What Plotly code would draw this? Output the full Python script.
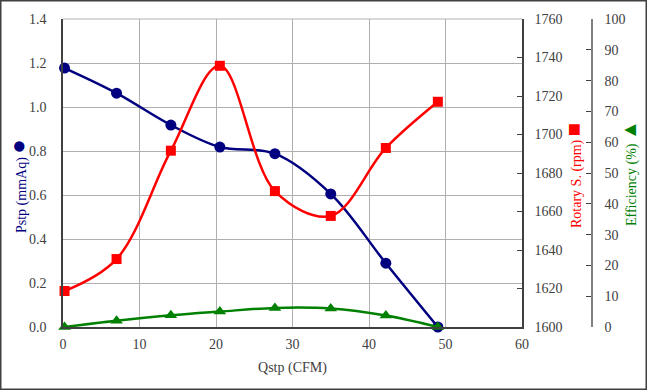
import plotly.graph_objects as go

qstp = [0.2, 7.0, 14.1, 20.5, 27.7, 35.0, 42.2, 49.0]
pstp = [1.177, 1.063, 0.918, 0.818, 0.788, 0.605, 0.29, 0.0]
rpm = [1618.7, 1635.3, 1691.6, 1735.7, 1670.6, 1657.7, 1693.0, 1717.0]
eff = [0.0, 2.0, 3.8, 5.0, 6.2, 6.0, 3.7, 0.0]

x_ticks = [0, 10, 20, 30, 40, 50, 60]
p_ticks = [0.0, 0.2, 0.4, 0.6, 0.8, 1.0, 1.2, 1.4]
p_labels = ["0.0", "0.2", "0.4", "0.6", "0.8", "1.0", "1.2", "1.4"]
r_ticks = [1600, 1620, 1640, 1660, 1680, 1700, 1720, 1740, 1760]
e_ticks = [0, 10, 20, 30, 40, 50, 60, 70, 80, 90, 100]

NAVY = "#000080"
RED = "#FF0000"
GREEN = "#008000"
TICKC = "#404040"
FONT = "Liberation Serif, Times New Roman, serif"

W, H = 647, 390
L, R, T, B = 63, 47, 19, 63
PW = W - L - R
PH = H - T - B

def px(xp):
    return (xp - L) / PW

def py(yp):
    return (H - B - yp) / PH

fig = go.Figure()
fig.add_trace(go.Scatter(x=qstp, y=rpm, mode="lines+markers", name="Rotary S.",
                         line=dict(color=RED, width=2.5, shape="spline"),
                         marker=dict(symbol="square", size=10, color=RED),
                         yaxis="y2", cliponaxis=False))
fig.add_trace(go.Scatter(x=qstp, y=eff, mode="lines+markers", name="Efficiency",
                         line=dict(color=GREEN, width=2.5, shape="spline"),
                         marker=dict(symbol="triangle-up", size=11, color=GREEN),
                         yaxis="y3", cliponaxis=False))
fig.add_trace(go.Scatter(x=qstp, y=pstp, mode="lines+markers", name="Pstp",
                         line=dict(color=NAVY, width=2.5, shape="spline"),
                         marker=dict(symbol="circle", size=11, color=NAVY),
                         yaxis="y", cliponaxis=False))

xdom_end = px(522)
tickfont = dict(family=FONT, size=14, color=TICKC)

fig.update_layout(
    width=W, height=H,
    margin=dict(l=L, r=R, t=T, b=B, autoexpand=False),
    paper_bgcolor="white", plot_bgcolor="white",
    showlegend=False,
    font=dict(family=FONT, size=14, color=TICKC),
    xaxis=dict(domain=[0, xdom_end], range=[0, 60], tickvals=x_ticks,
               showgrid=True, gridcolor="#b0b0b0", gridwidth=1,
               showline=True, linecolor="#404040", linewidth=1.5, mirror=False,
               ticks="", tickfont=tickfont, ticklabelstandoff=3, automargin=False,
               zeroline=False,
               title=dict(text="Qstp (CFM)", font=dict(family=FONT, size=14, color=TICKC), standoff=12)),
    yaxis=dict(range=[0, 1.4], tickvals=p_ticks, ticktext=p_labels,
               showgrid=True, gridcolor="#b0b0b0", gridwidth=1,
               showline=True, linecolor="#404040", linewidth=1.5, automargin=False,
               ticks="", tickfont=tickfont, ticklabelstandoff=12, zeroline=False),
    yaxis2=dict(range=[1600, 1760], tickvals=r_ticks, overlaying="y", side="right",
                anchor="x", showgrid=False, showline=True, linecolor="#404040", linewidth=1.5,
                ticks="inside", ticklen=5, tickcolor="#404040", tickfont=tickfont,
                ticklabelstandoff=8, zeroline=False, automargin=False),
    yaxis3=dict(range=[0, 100], tickvals=e_ticks, overlaying="y", side="right",
                anchor="free", position=px(592), showgrid=False, showline=True,
                linecolor="#808080", linewidth=1.5, ticks="inside", ticklen=5,
                tickcolor="#404040", tickfont=tickfont, ticklabelstandoff=9, zeroline=False,
                automargin=False),
)

ann = [
    (18, 186, "Pstp (mmAq) <span style='font-size:24px'>●</span>", NAVY),
    (573, 176, "Rotary S. (rpm) <span style='font-size:22px'>■</span>", RED),
    (629, 173, "Efficiency (%) <span style='font-size:20px'>▲</span>", GREEN),
]
for xp, yp, txt, col in ann:
    fig.add_annotation(x=px(xp), y=py(yp), xref="paper", yref="paper", text=txt,
                       textangle=-90, showarrow=False, xanchor="center", yanchor="middle",
                       font=dict(family=FONT, size=14, color=col))

fig.add_shape(type="rect", xref="paper", yref="paper",
              x0=px(0.75), x1=px(W - 0.75), y0=py(H - 0.75), y1=py(0.75),
              line=dict(color="#404040", width=1.5))
fig.add_shape(type="line", xref="paper", yref="paper",
              x0=0, x1=xdom_end, y0=1, y1=1, line=dict(color="#b0b0b0", width=1))

fig.write_html("out.html", config={"displayModeBar": False},
               post_script="document.body.style.margin='0';document.body.style.padding='0';document.body.style.overflow='hidden';")
